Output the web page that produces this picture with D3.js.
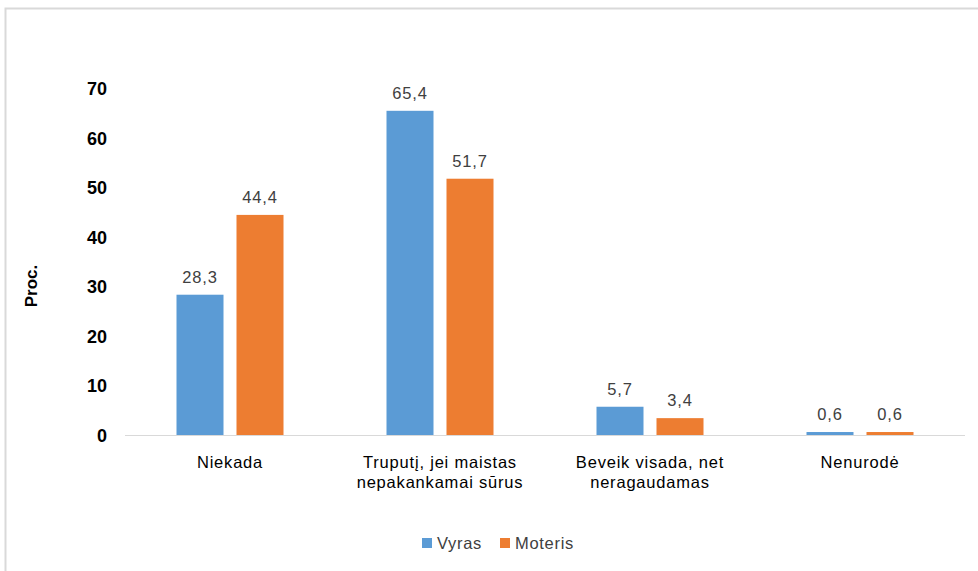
<!DOCTYPE html>
<html>
<head>
<meta charset="utf-8">
<script src="https://cdn.jsdelivr.net/npm/d3@7"></script>
<style>
  html, body { margin: 0; padding: 0; background: #fff; }
  svg { display: block; }
</style>
</head>
<body>
<svg id="chart" width="978" height="571"></svg>
<script>
// Survey answers by sex, percent
const categories = [
  ["Niekada"],
  ["Truputį, jei maistas", "nepakankamai sūrus"],
  ["Beveik visada, net", "neragaudamas"],
  ["Nenurodė"]
];
const seriesNames = ["Vyras", "Moteris"];
const vyras = [28.3, 65.4, 5.7, 0.6];
const moteris = [44.4, 51.7, 3.4, 0.6];
const yTicks = [0, 10, 20, 30, 40, 50, 60, 70];

const colors = ["#5B9BD5", "#ED7D31"];
const font = "'Liberation Sans', Arial, sans-serif";
const fs = 16.5;

const svg = d3.select("#chart");
const W = 978, H = 571;

// outer frame
svg.append("rect")
  .attr("x", 5.5).attr("y", 8.5)
  .attr("width", W + 10).attr("height", H + 10)
  .attr("fill", "#fff").attr("stroke", "#d9d9d9").attr("stroke-width", 2);

const plot = { left: 125, right: 965, top: 88, bottom: 435 };

const x0 = d3.scaleBand()
  .domain(d3.range(categories.length))
  .range([plot.left, plot.right]);

const y = d3.scaleLinear().domain([0, 70]).range([plot.bottom, plot.top]);

// y axis tick labels
const yAxis = d3.axisLeft(y).tickValues(yTicks).tickSize(0).tickPadding(0)
  .tickFormat(d3.format("d"));
const gy = svg.append("g").attr("transform", `translate(107,0)`).call(yAxis);
gy.select(".domain").remove();
gy.selectAll("text")
  .attr("font-family", font).attr("font-size", 18).attr("font-weight", "bold")
  .attr("fill", "#000").attr("dy", "0.36em");

// y axis title
svg.append("text")
  .attr("transform", "translate(37,286) rotate(-90)")
  .attr("text-anchor", "middle")
  .attr("font-family", font).attr("font-size", 17).attr("font-weight", "bold")
  .attr("fill", "#000")
  .text("Proc.");

const data = categories.map((c, i) => ({ i, values: [vyras[i], moteris[i]] }));

const barW = 47, gap = 13;
const groups = svg.append("g").selectAll("g").data(data).join("g")
  .attr("transform", d => `translate(${x0(d.i) + x0.bandwidth() / 2 - barW - gap / 2},0)`);

groups.selectAll("rect").data(d => d.values).join("rect")
  .attr("x", (v, k) => k * (barW + gap))
  .attr("y", v => y(v))
  .attr("width", barW)
  .attr("height", v => y(0) - y(v))
  .attr("fill", (v, k) => colors[k]);

groups.selectAll("text.val").data(d => d.values).join("text")
  .attr("class", "val")
  .attr("x", (v, k) => k * (barW + gap) + barW / 2)
  .attr("y", v => y(v) - 12)
  .attr("text-anchor", "middle")
  .attr("font-family", font).attr("font-size", fs)
  .attr("letter-spacing", 0.8)
  .attr("fill", "#404040")
  .text(v => d3.format(".1f")(v).replace(".", ","));

// baseline
svg.append("line")
  .attr("x1", plot.left).attr("x2", plot.right)
  .attr("y1", y(0) + 0.5).attr("y2", y(0) + 0.5)
  .attr("stroke", "#d9d9d9").attr("stroke-width", 1);

// category labels
const cat = svg.append("g").selectAll("text").data(categories).join("text")
  .attr("x", (d, i) => x0(i) + x0.bandwidth() / 2)
  .attr("y", 468)
  .attr("text-anchor", "middle")
  .attr("font-family", font).attr("font-size", fs)
  .attr("letter-spacing", 0.8)
  .attr("fill", "#000");
cat.selectAll("tspan").data(d => d).join("tspan")
  .attr("x", function () { return this.parentNode.getAttribute("x"); })
  .attr("dy", (d, k) => k === 0 ? 0 : 20)
  .text(d => d);

// legend
const legend = svg.append("g");
const legendPos = [[422, 437], [500, 515]];
seriesNames.forEach((name, k) => {
  legend.append("rect")
    .attr("x", legendPos[k][0]).attr("y", 538)
    .attr("width", 10).attr("height", 10)
    .attr("fill", colors[k]);
  legend.append("text")
    .attr("x", legendPos[k][1]).attr("y", 549)
    .attr("font-family", font).attr("font-size", fs)
    .attr("letter-spacing", 0.7)
    .attr("fill", "#404040")
    .text(name);
});
</script>
</body>
</html>
